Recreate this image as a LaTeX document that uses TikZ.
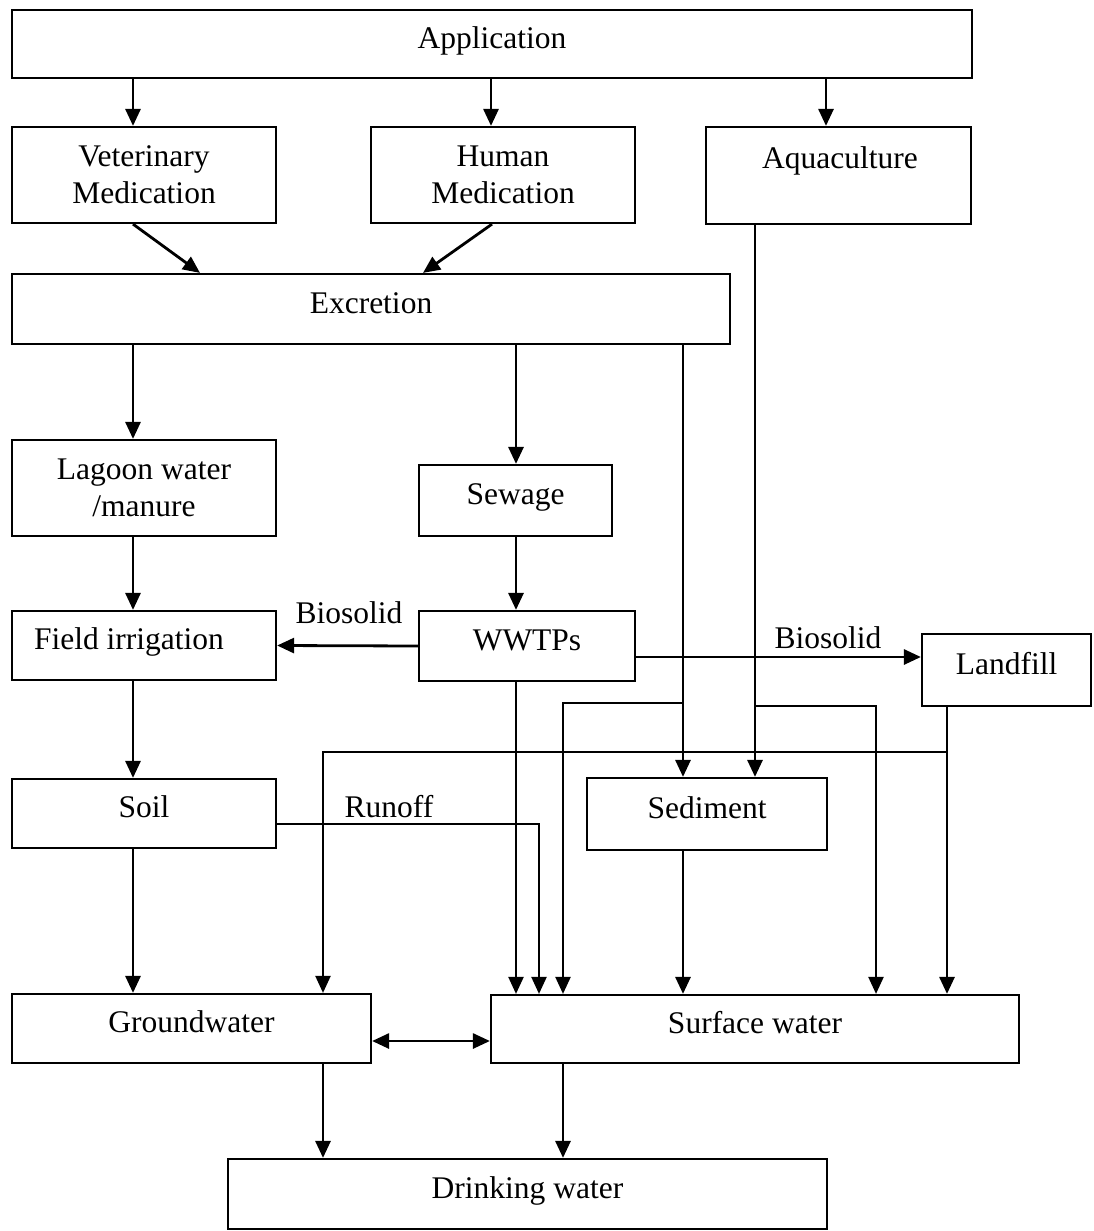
\documentclass[tikz,border=0pt]{standalone}
\usepackage{fontspec}
\setmainfont{Liberation Serif}
\usetikzlibrary{arrows.meta}
\begin{document}
\begin{tikzpicture}[x=1pt,y=-1pt,
  font=\fontsize{31.5}{37}\selectfont,
  box/.style={draw,line width=2.2pt,inner sep=0pt,align=center},
  box1/.style={box,text height=0.85em,text depth=0em},
  arr/.style={line width=2.8pt,-{Triangle[length=17pt,width=15pt]}},
  tarr/.style={line width=2.2pt,-{Triangle[length=17pt,width=15pt]}},
  lbl/.style={inner sep=0pt,anchor=base}]
\useasboundingbox (0,0) rectangle (1094,1231);
% boxes
\node[box1,minimum width=960,minimum height=68] (app) at (492,44) {Application};
\node[box,minimum width=264,minimum height=96] (vet) at (144,175) {Veterinary\\Medication};
\node[box,minimum width=264,minimum height=96] (hum) at (503,175) {Human\\Medication};
\node[box,minimum width=265,minimum height=97] (aqua) at (838.5,175.5) {};
\node[lbl] (aquat) at (840,168) {Aquaculture};
\node[box1,minimum width=718,minimum height=70] (exc) at (371,309) {Excretion};
\node[box,minimum width=264,minimum height=96] (lag) at (144,488) {Lagoon water\\/manure};
\node[box1,minimum width=193,minimum height=71] (sew) at (515.5,500.5) {Sewage};
\node[box,minimum width=264,minimum height=69] (fld) at (144,645.5) {};
\node[lbl] (fldt) at (129,649) {Field irrigation};
\node[box1,minimum width=216,minimum height=70] (wwtp) at (527,646) {WWTPs};
\node[box1,minimum width=169,minimum height=72] (land) at (1006.5,670) {Landfill};
\node[box1,minimum width=264,minimum height=69] (soil) at (144,813.5) {Soil};
\node[box1,minimum width=240,minimum height=72] (sed) at (707,814) {Sediment};
\node[box1,minimum width=359,minimum height=69] (gw) at (191.5,1028.5) {Groundwater};
\node[box1,minimum width=528,minimum height=68] (surf) at (755,1029) {Surface water};
\node[box1,minimum width=599,minimum height=70] (dw) at (527.5,1194) {Drinking water};
% labels
\node[lbl] (bs1) at (349,623) {Biosolid};
\node[lbl] (bs2) at (828,648) {Biosolid};
\node[lbl] (ro) at (389,817) {Runoff};
% helper columns / rows
\coordinate (cA) at (133,0);
\coordinate (cB) at (491,0);
\coordinate (cC) at (826,0);
\coordinate (cD) at (516,0);
\coordinate (cE) at (683,0);
\coordinate (cF) at (755,0);
\coordinate (cG) at (563,0);
\coordinate (cH) at (876,0);
\coordinate (cI) at (947,0);
\coordinate (cJ) at (323,0);
\coordinate (cK) at (539,0);
\coordinate (cL) at (200,0);
\coordinate (cM) at (423,0);
\coordinate (cN) at (492,0);
\coordinate (r657) at (0,657);
\coordinate (r824) at (0,824);
\coordinate (r1041) at (0,1041);
\coordinate (j1) at (683,703);
\coordinate (j2) at (755,706);
\coordinate (j3) at (947,752);
% connectors
\draw[arr] (app.south -| cA) -- (vet.north -| cA);
\draw[arr] (app.south -| cB) -- (hum.north -| cB);
\draw[arr] (app.south -| cC) -- (aqua.north -| cC);
\draw[arr] (vet.south -| cA) -- (exc.north -| cL);
\draw[arr] (hum.south -| cN) -- (exc.north -| cM);
\draw[arr] (exc.south -| cA) -- (lag.north -| cA);
\draw[arr] (exc.south -| cD) -- (sew.north -| cD);
\draw[arr] (exc.south -| cE) -- (sed.north -| cE);
\draw[tarr] (j1) -| (surf.north -| cG);
\draw[arr] (aqua.south -| cF) -- (sed.north -| cF);
\draw[tarr] (j2) -| (surf.north -| cH);
\draw[arr] (lag.south -| cA) -- (fld.north -| cA);
\draw[arr] (sew.south -| cD) -- (wwtp.north -| cD);
\draw[arr] (wwtp.west) -- (fld.east);
\draw[arr] (wwtp.east |- r657) -- (land.west |- r657);
\draw[tarr] (wwtp.south -| cD) -- (surf.north -| cD);
\draw[arr] (land.south -| cI) -- (surf.north -| cI);
\draw[tarr] (j3) -| (gw.north -| cJ);
\draw[arr] (fld.south -| cA) -- (soil.north -| cA);
\draw[arr] (soil.south -| cA) -- (gw.north -| cA);
\draw[tarr] (soil.east |- r824) -| (surf.north -| cK);
\draw[arr] (sed.south -| cE) -- (surf.north -| cE);
\draw[line width=2.8pt,{Triangle[length=17pt,width=15pt]}-{Triangle[length=17pt,width=15pt]}] (gw.east |- r1041) -- (surf.west |- r1041);
\draw[arr] (gw.south -| cJ) -- (dw.north -| cJ);
\draw[arr] (surf.south -| cG) -- (dw.north -| cG);
\end{tikzpicture}
\end{document}
